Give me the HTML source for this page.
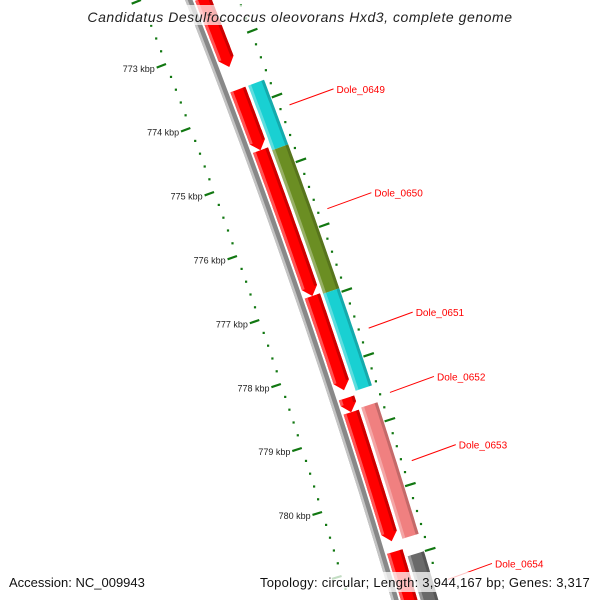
<!DOCTYPE html>
<html><head><meta charset="utf-8"><style>
html,body{margin:0;padding:0;background:#fff;overflow:hidden;width:600px;height:600px;}
svg{display:block;font-family:"Liberation Sans",sans-serif;}
</style></head><body>
<svg id="map" width="600" height="600" viewBox="0 0 600 600" xmlns="http://www.w3.org/2000/svg">
<g id="layer"></g>
<rect x="80" y="5" width="440" height="20" fill="#fff" opacity="0.7"/>
<text x="300" y="22" text-anchor="middle" font-size="14" letter-spacing="0.55" font-style="italic" fill="#222">Candidatus Desulfococcus oleovorans Hxd3, complete genome</text>
<rect x="255" y="572" width="340" height="20" fill="#fff" opacity="0.75"/>
<text x="9" y="587" font-size="13" fill="#111">Accession: NC_009943</text>
<text x="590" y="587" text-anchor="end" font-size="13" letter-spacing="0.25" fill="#111">Topology: circular; Length: 3,944,167 bp; Genes: 3,317</text>
</svg>
<script>
// data
const revStarts = [772.3, 773.72, 774.66, 776.92, 778.5, 778.72, 780.88];
const revEnds   = [773.37, 774.66, 776.92, 778.38, 778.72, 780.72, 782.2];
const fwdStarts = [773.72, 774.72, 776.94, 778.7, 781.0];
const fwdEnds   = [774.72, 776.94, 778.44, 780.73, 782.2];
const fwdColors = ["#19d0d2", "#6b8e23", "#19d0d2", "#f08080", "#6a6a6a"];
const labelNames = ["Dole_0649", "Dole_0650", "Dole_0651", "Dole_0652", "Dole_0653", "Dole_0654"];
const labelPos   = [774.19, 775.79, 777.63, 778.62, 779.67, 781.5];
const tickLabels = [773, 774, 775, 776, 777, 778, 779, 780];

const NS = "http://www.w3.org/2000/svg";
const layer = document.getElementById("layer");
const SH = 4;
function ruler(k){const u=k-773;return [166+24.69*u-0.343*u*u, 64+64*u];}
function nrm(k){const u=k-773;const s=24.69-0.686*u;const L=Math.hypot(64,s);return [64/L,-s/L];}
function P(k,d){const r=ruler(k),n=nrm(k);return [r[0]+n[0]*d,r[1]+n[1]*d];}
function mk(tag,attrs){const e=document.createElementNS(NS,tag);for(const a in attrs)e.setAttribute(a,attrs[a]);layer.appendChild(e);return e;}
function band(k0,k1,d0,d1,fill,arrow){
  d0+=SH;d1+=SH;
  const pts=[];const n=24;const ah=0.13;
  const kE=arrow?k1-ah:k1;
  for(let i=0;i<=n;i++){const k=k0+(kE-k0)*i/n;pts.push(P(k,d0));}
  if(arrow){pts.push(P(k1,(d0+d1)/2));}
  for(let i=n;i>=0;i--){const k=k0+(kE-k0)*i/n;pts.push(P(k,d1));}
  return mk("polygon",{points:pts.map(p=>p[0].toFixed(1)+","+p[1].toFixed(1)).join(" "),fill:fill});
}
// backbone
let e=band(772,782.5,37,44,"#888",false);


e=band(772,782.5,37,39.5,"#c4c4c4",false);


// reverse strand genes
for(let i=0;i<revStarts.length;i++){
  e=band(revStarts[i],revEnds[i],46,62,"#ff0000",true);
  
  
  e=band(revStarts[i],revEnds[i]-0.13,46,49,"#ff5555",false);
  
  
  e=band(revStarts[i],revEnds[i]-0.13,59,62,"#cc0000",false);
  
  
}
// forward strand genes
for(let i=0;i<fwdStarts.length;i++){
  e=band(fwdStarts[i],fwdEnds[i],65,82,fwdColors[i],false);
  
  
  e=band(fwdStarts[i],fwdEnds[i],65,68,"rgba(255,255,255,0.3)",false);
  
  
  e=band(fwdStarts[i],fwdEnds[i],79,82,"rgba(0,0,0,0.18)",false);
  
  
}
// rulers
for(let k=772.4;k<=781.3;k+=0.2){
  const kr=Math.round(k*10)/10;
  if(Math.abs(kr-Math.round(kr))<0.01) continue;
  for(const d of [0,91]){
    const p=P(kr,d);
    e=mk("rect",{x:(p[0]-1).toFixed(1),y:(p[1]-1).toFixed(1),width:2.2,height:2.2,fill:"#117711"});
    
    
  }
}
for(let k=772;k<=782;k++){
  for(const dd of [[-10,0],[87,98]]){
    const a=P(k,dd[0]),b=P(k,dd[1]);
    e=mk("line",{x1:a[0],y1:a[1],x2:b[0],y2:b[1],stroke:"#117711","stroke-width":2.2});
    
    
  }
}
for(let i=0;i<tickLabels.length;i++){
  const p=P(tickLabels[i],-12);
  e=mk("text",{x:p[0].toFixed(1),y:(p[1]+3.5).toFixed(1),"text-anchor":"end","font-size":"9",fill:"#222"});
  e.textContent=tickLabels[i]+" kbp";
  
  
}
// gene labels
for(let i=0;i<labelNames.length;i++){
  const a=P(labelPos[i],101);const b=[a[0]+44,a[1]-16];
  e=mk("line",{x1:a[0],y1:a[1],x2:b[0],y2:b[1],stroke:"#ff0000","stroke-width":1});
  
  
  e=mk("text",{x:(b[0]+3).toFixed(1),y:(b[1]+4).toFixed(1),"font-size":"10",fill:"#ff0000"});
  e.textContent=labelNames[i];
  
  
}
</script>
</body></html>
